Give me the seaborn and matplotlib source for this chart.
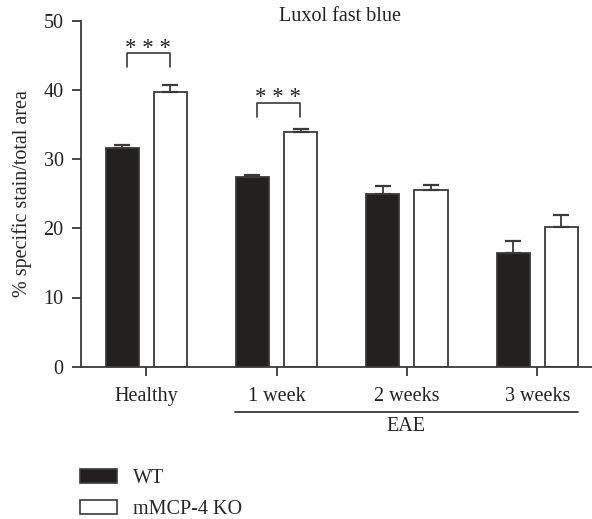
import matplotlib
matplotlib.use("Agg")
import matplotlib.pyplot as plt
import matplotlib.transforms as mtransforms
from matplotlib.patches import Patch
import seaborn as sns
import pandas as pd

groups = ["Healthy", "1 week", "2 weeks", "3 weeks"]
genotypes = ["WT", "mMCP-4 KO"]
wt_mean = [31.6, 27.4, 25.0, 16.4]
wt_sem = [0.4, 0.3, 1.1, 1.8]
ko_mean = [39.7, 33.9, 25.5, 20.2]
ko_sem = [1.0, 0.5, 0.8, 1.7]
yticks = [0, 10, 20, 30, 40, 50]
title = "Luxol fast blue"
ylabel = "% specific stain/total area"
sig_pairs = [("Healthy", "***"), ("1 week", "***")]
sig_y = [45.3, 38.1]

FS = 14.5
sns.set_style("ticks")
plt.rcParams["font.family"] = ["Liberation Serif", "DejaVu Serif"]
plt.rcParams["font.size"] = FS

df = pd.DataFrame({
    "group": groups * 2,
    "genotype": [genotypes[0]] * 4 + [genotypes[1]] * 4,
    "value": wt_mean + ko_mean,
})
sems = {genotypes[0]: wt_sem, genotypes[1]: ko_sem}

dark = "#231f20"
edge = "#3a3a3a"
txt = "#222222"
fig = plt.figure(figsize=(5.92, 5.19), dpi=100)
ax = fig.add_axes([81 / 592, 152.3 / 519, 511 / 592, 346 / 519])

sns.barplot(data=df, x="group", y="value", hue="genotype", order=groups,
            hue_order=genotypes, palette={genotypes[0]: dark, genotypes[1]: "white"},
            edgecolor=edge, linewidth=1.3, width=0.74, gap=0.314,
            errorbar=None, legend=False, ax=ax)

for cont, g in zip(ax.containers, genotypes):
    xs = [p.get_x() + p.get_width() / 2 for p in cont]
    hs = [p.get_height() for p in cont]
    ax.errorbar(xs, hs, yerr=[[0] * len(xs), sems[g]], fmt="none",
                ecolor=edge, elinewidth=1.3, capsize=5.5, capthick=1.6, zorder=1)

ax.set_ylim(0, 50)
ax.set_yticks(yticks)
ax.set_xlim(-0.5, 3.42)
ax.set_xlabel("")
ax.set_ylabel(ylabel, fontsize=FS, labelpad=8)
sns.despine(ax=ax)
for s in ["left", "bottom"]:
    ax.spines[s].set_color(edge)
    ax.spines[s].set_linewidth(1.3)
ax.tick_params(axis="both", colors=edge, width=1.3, length=6.5, labelcolor=txt,
               labelsize=FS)
ax.tick_params(axis="x", pad=8)
ax.tick_params(axis="y", pad=6)

# significance brackets
for (grp, stars), yb in zip(sig_pairs, sig_y):
    c = groups.index(grp)
    x0, x1 = c - 0.15, c + 0.18
    ax.plot([x0, x0, x1, x1], [yb - 2.0, yb, yb, yb - 2.0], color=edge, lw=1.2,
            clip_on=False)
    ax.text((x0 + x1) / 2, yb - 0.05, " ".join(stars), ha="center", va="baseline",
            fontsize=FS + 2, color=txt)

# EAE grouping line
trans = mtransforms.blended_transform_factory(ax.transData, ax.transAxes)
ax.plot([0.68, 3.31], [-0.131, -0.131], color=edge, lw=1.3, transform=trans, clip_on=False)
ax.text((0.68 + 3.31) / 2, -0.172, "EAE", ha="center", va="center", transform=trans,
        fontsize=FS, color=txt)

# title
ax.text(1.49, 1.012, title, ha="center", va="center", transform=trans, fontsize=FS,
        color=txt)

handles = [Patch(facecolor=dark, edgecolor=edge, linewidth=1.2, label=genotypes[0]),
           Patch(facecolor="white", edgecolor=edge, linewidth=1.2, label=genotypes[1])]
fig.legend(handles=handles, loc="upper left", bbox_to_anchor=(72 / 592, 1 - 461 / 519),
           frameon=False, fontsize=FS, handlelength=1.85, handleheight=0.7,
           handletextpad=0.8, labelspacing=0.6, borderaxespad=0)

fig.savefig("out.png", dpi=100)
